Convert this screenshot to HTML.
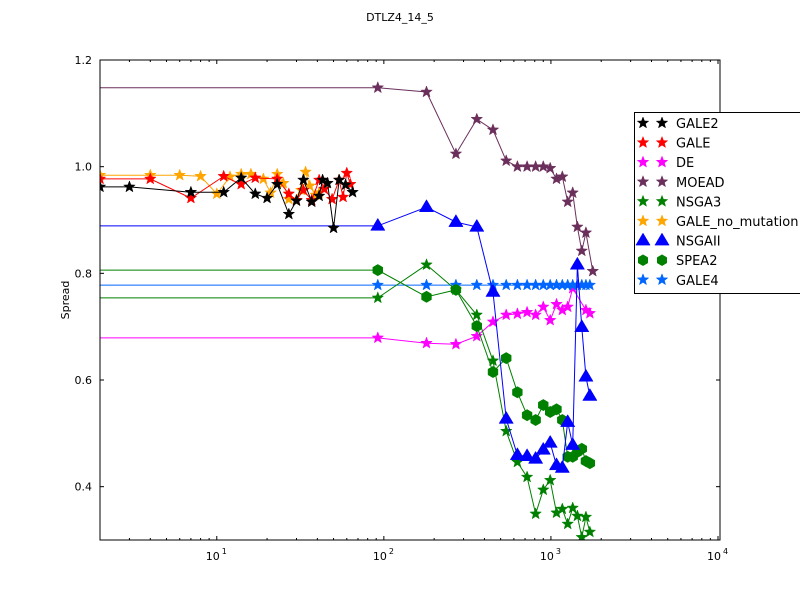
<!DOCTYPE html>
<html><head><meta charset="utf-8"><style>
body{margin:0;background:#fff;}
svg{display:block;font-family:"DejaVu Sans","Liberation Sans",sans-serif;}
</style></head><body>
<svg id="chart" width="800" height="600" viewBox="0 0 800 600" xmlns="http://www.w3.org/2000/svg">
<rect width="800" height="600" fill="#fff"/>
<text x="400" y="21" font-size="11" text-anchor="middle">DTLZ4_14_5</text>
<text x="69" y="300" font-size="11" text-anchor="middle" transform="rotate(-90 69 300)">Spread</text>
<defs><clipPath id="plotclip"><rect x="100" y="60" width="620" height="480"/></clipPath></defs>
<g id="series" clip-path="url(#plotclip)"></g>
<rect x="100" y="60" width="620" height="480" fill="none" stroke="#000" stroke-width="1"/>
<g id="axes"></g>
<g id="legend"></g>
</svg>
<script>
const yTicks = [0.4, 0.6, 0.8, 1.0, 1.2];
const yTickLabels = ["0.4", "0.6", "0.8", "1.0", "1.2"];
const xMajor = [10, 100, 1000, 10000];
const xMajorExp = ["1", "2", "3", "4"];
const seriesNames = ["GALE2","GALE","DE","MOEAD","NSGA3","GALE_no_mutation","NSGAII","SPEA2","GALE4"];

const gale2X = [2,3,7,11,14,17,20,23,27,30,33,37,41,43,46,50,54,59,65];
const gale2Y = [0.962,0.962,0.952,0.952,0.979,0.949,0.941,0.967,0.911,0.936,0.975,0.934,0.945,0.975,0.969,0.885,0.975,0.966,0.952];
const galeX = [2,4,7,11,14,17,23,27,30,33,37,41,44,49,54,57,60,63];
const galeY = [0.977,0.977,0.941,0.982,0.967,0.979,0.977,0.949,0.937,0.956,0.937,0.975,0.958,0.939,0.975,0.943,0.988,0.967];
const gnmX = [2,4,6,8,10,12,14,16,19,21,23,25,27,30,32,34,36,39,41];
const gnmY = [0.984,0.984,0.984,0.982,0.949,0.981,0.986,0.986,0.977,0.951,0.986,0.969,0.939,0.937,0.956,0.99,0.964,0.947,0.951];

const commonX = [1,92,180,270,360,450,540,630,720,810,900,990,1080,1170,1260,1350,1440,1530,1620,1710];
const moeadX = [1,92,180,270,360,450,540,630,720,810,900,990,1080,1170,1260,1350,1440,1530,1620,1780];
const moeadY = [1.148,1.148,1.14,1.024,1.089,1.069,1.011,1.0,1.0,1.0,1.0,0.997,0.977,0.981,0.934,0.951,0.887,0.842,0.876,0.804];
const nsga2Y = [0.889,0.889,0.924,0.896,0.887,0.765,0.527,0.459,0.457,0.452,0.469,0.482,0.44,0.435,0.521,0.478,0.816,0.699,0.606,0.57];
const nsga3Y = [0.754,0.754,0.816,0.769,0.722,0.636,0.504,0.446,0.418,0.349,0.394,0.412,0.351,0.358,0.33,0.36,0.345,0.305,0.343,0.315];
const spea2Y = [0.806,0.806,0.756,0.769,0.701,0.615,0.641,0.577,0.534,0.525,0.553,0.54,0.545,0.525,0.456,0.456,0.465,0.471,0.448,0.444];
const deX = [1,92,180,270,360,450,540,630,720,810,900,990,1080,1170,1260,1350,1620,1710];
const deY = [0.679,0.679,0.669,0.667,0.682,0.709,0.722,0.724,0.727,0.722,0.737,0.712,0.742,0.731,0.737,0.772,0.731,0.725];
const gale4Y = [0.778,0.778,0.778,0.778,0.778,0.778,0.778,0.778,0.778,0.778,0.778,0.778,0.778,0.778,0.778,0.778,0.778,0.778,0.778,0.778];

const L = 100, R = 720, T = 60, B = 540;
const lxMin = Math.log10(2), lxMax = 4.012;
const yMin = 0.3, yMax = 1.2;
function sx(v){ return L + (Math.log10(v) - lxMin) / (lxMax - lxMin) * (R - L); }
function sy(v){ return B - (v - yMin) / (yMax - yMin) * (B - T); }
const NS = "http://www.w3.org/2000/svg";
function mk(tag, attrs, parent){ const e = document.createElementNS(NS, tag); for (const k in attrs) e.setAttribute(k, attrs[k]); parent.appendChild(e); return e; }

function starPts(cx, cy, r){ let p=[]; for(let i=0;i<10;i++){ const a=-Math.PI/2+i*Math.PI/5; const rr=i%2?r*0.42:r; p.push((cx+rr*Math.cos(a)).toFixed(2)+","+(cy+rr*Math.sin(a)).toFixed(2)); } return p.join(" "); }
function triPts(cx, cy, r){ return [[cx,cy-r],[cx+r*0.95,cy+r*0.6],[cx-r*0.95,cy+r*0.6]].map(p=>p[0].toFixed(2)+","+p[1].toFixed(2)).join(" "); }
function hexPts(cx, cy, r){ let p=[]; for(let i=0;i<6;i++){ const a=-Math.PI/2+i*Math.PI/3; p.push((cx+r*Math.cos(a)).toFixed(2)+","+(cy+r*Math.sin(a)).toFixed(2)); } return p.join(" "); }
function marker(kind, cx, cy, color, parent, size){
  let pts;
  if (kind === "star") pts = starPts(cx, cy, size || 6);
  else if (kind === "tri") pts = triPts(cx, cy, size || 7.5);
  else pts = hexPts(cx, cy, size || 5.7);
  return mk("polygon", {points: pts, fill: color, stroke: color, "stroke-width": 0.5}, parent);
}

const series = [
  {name:"DE", x:deX, y:deY, color:"#ff00ff", m:"star"},
  {name:"GALE4", x:commonX, y:gale4Y, color:"#0066ff", m:"star"},
  {name:"SPEA2", x:commonX, y:spea2Y, color:"#008000", m:"hex"},
  {name:"NSGA3", x:commonX, y:nsga3Y, color:"#008000", m:"star"},
  {name:"NSGAII", x:commonX, y:nsga2Y, color:"#0000ff", m:"tri"},
  {name:"MOEAD", x:moeadX, y:moeadY, color:"#6b2f5c", m:"star"},
  {name:"GALE_no_mutation", x:gnmX, y:gnmY, color:"#ffa500", m:"star"},
  {name:"GALE", x:galeX, y:galeY, color:"#ff0000", m:"star"},
  {name:"GALE2", x:gale2X, y:gale2Y, color:"#000000", m:"star"}
];
const sg = document.getElementById("series");
series.forEach(s => {
  const g = mk("g", {}, sg);
  
  
  const d = s.x.map((xv,i)=>(i?"L":"M")+sx(xv).toFixed(2)+","+sy(s.y[i]).toFixed(2)).join(" ");
  const line = mk("path", {d:d, fill:"none", stroke:s.color, "stroke-width":1}, g);
  
  
  s.x.forEach((xv,i)=>{
    const p = marker(s.m, sx(xv), sy(s.y[i]), s.color, g);
    
    
  });
});

const ax = document.getElementById("axes");
yTicks.forEach((v,i)=>{
  const y = sy(v);
  mk("line", {x1:L, y1:y, x2:L+4, y2:y, stroke:"#000"}, ax);
  mk("line", {x1:R, y1:y, x2:R-4, y2:y, stroke:"#000"}, ax);
  const t = mk("text", {x:L-8, y:y+4, "font-size":11, "text-anchor":"end"}, ax);
  t.textContent = yTickLabels[i];
  
  
});
for (let dec=0; dec<4; dec++){
  for (let k=2;k<=9;k++){
    const v = k*Math.pow(10,dec);
    if (v <= 2) continue;
    const x = sx(v); if (x > R) continue;
    mk("line", {x1:x, y1:B, x2:x, y2:B-2, stroke:"#000"}, ax);
    mk("line", {x1:x, y1:T, x2:x, y2:T+2, stroke:"#000"}, ax);
  }
}
xMajor.forEach((v,i)=>{
  const x = sx(v);
  mk("line", {x1:x, y1:B, x2:x, y2:B-4, stroke:"#000"}, ax);
  mk("line", {x1:x, y1:T, x2:x, y2:T+4, stroke:"#000"}, ax);
  const t = mk("text", {x:x-4, y:B+20, "font-size":11, "text-anchor":"middle"}, ax);
  t.textContent = "10";
  
  
  const e = mk("text", {x:x+5, y:B+14, "font-size":8, "text-anchor":"start"}, ax);
  e.textContent = xMajorExp[i];
  
  
});

const lg = document.getElementById("legend");


mk("rect", {x:634.5, y:112.5, width:180, height:181, fill:"#fff", stroke:"#000", "stroke-width":1}, lg);
const legendColors = {};
series.forEach(s=>legendColors[s.name]=s);
seriesNames.forEach((n,i)=>{
  const s = legendColors[n];
  const y = 123 + i*19.6;
  const g = mk("g", {}, lg);
  
  
  const sz = s.m==="tri"?7.5:(s.m==="hex"?5.5:6);
  marker(s.m, 643, y, s.color, g, sz);
  marker(s.m, 662, y, s.color, g, sz);
  const t = mk("text", {x:676, y:y+5, "font-size":13}, g);
  t.textContent = n;
});
</script>
</body></html>
